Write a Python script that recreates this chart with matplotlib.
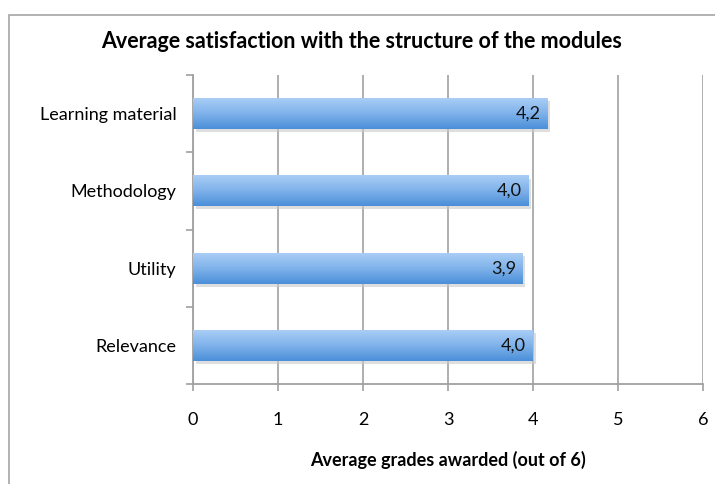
import matplotlib.pyplot as plt
import matplotlib.patches as mpatches
from matplotlib.colors import LinearSegmentedColormap
import numpy as np

plt.rcParams['font.family'] = ['Lato', 'DejaVu Sans']

categories = ["Relevance", "Utility", "Methodology", "Learning material"]
values = [4.0, 3.88, 3.95, 4.17]
labels = ["4,0", "3,9", "4,0", "4,2"]

fig = plt.figure(figsize=(7.15, 4.84), dpi=100)
ax = fig.add_axes([193 / 715, 1 - 384 / 484, 510 / 715, 309 / 484])

# outer frame of the chart
fig.patches.append(mpatches.Rectangle((9 / 715, -0.1), 1.0, 1 - 15 / 484 + 0.1,
                                      transform=fig.transFigure, fill=False,
                                      edgecolor="#a6a6a6", linewidth=1.2))

ypos = np.arange(len(categories))
bars = ax.barh(ypos, values, height=0.4, color="none", edgecolor="none", zorder=3)

# vertical gradient in each bar
grad = np.linspace(0, 1, 100).reshape(-1, 1)
cmap = LinearSegmentedColormap.from_list("bl", ["#a9cdf5", "#7fb2ea", "#4b8fd9"])
for b in bars:
    x0, y0 = b.get_x(), b.get_y()
    w, h = b.get_width(), b.get_height()
    # soft shadow
    ax.add_patch(mpatches.Rectangle((x0 + 0.03, y0 - 0.04), w, h, color="#c8c8c8",
                                    alpha=0.6, zorder=2, linewidth=0))
    im = ax.imshow(grad, extent=[x0, x0 + w, y0, y0 + h], cmap=cmap,
                   aspect="auto", origin="upper", zorder=3)
    im.set_clip_path(b)

for y, v, lab in zip(ypos, values, labels):
    ax.text(v - 0.08, y, lab, ha="right", va="center", fontsize=13, color="#111111", zorder=4)

ax.set_xlim(0, 6)
ax.set_ylim(-0.5, len(categories) - 0.5)
ax.set_xticks(range(7))
ax.set_xticklabels([str(i) for i in range(7)], fontsize=13)
ax.set_yticks(ypos)
ax.set_yticklabels(categories, fontsize=13)
ax.tick_params(axis="y", length=0, pad=12)
ax.set_yticks(np.arange(-0.5, len(categories), 1), minor=True)
ax.tick_params(axis="y", which="minor", length=5, color="#a0a0a0", width=1.2)
ax.tick_params(axis="x", length=5, color="#a0a0a0", width=1.2, pad=15)
ax.grid(axis="x", color="#a8a8a8", linewidth=1.3, zorder=0)
ax.set_axisbelow(True)
for s in ["top", "right"]:
    ax.spines[s].set_visible(False)
for s in ["left", "bottom"]:
    ax.spines[s].set_color("#a0a0a0")
    ax.spines[s].set_linewidth(1.3)

ax.set_xlabel("Average grades awarded (out of 6)", fontsize=13, fontweight="bold", labelpad=17)
fig.text(0.5 + 9 / 715 / 2, 1 - 42 / 484, "Average satisfaction with the structure of the modules",
         ha="center", va="center", fontsize=15.5, fontweight="bold")

fig.savefig("out.png", dpi=100)
